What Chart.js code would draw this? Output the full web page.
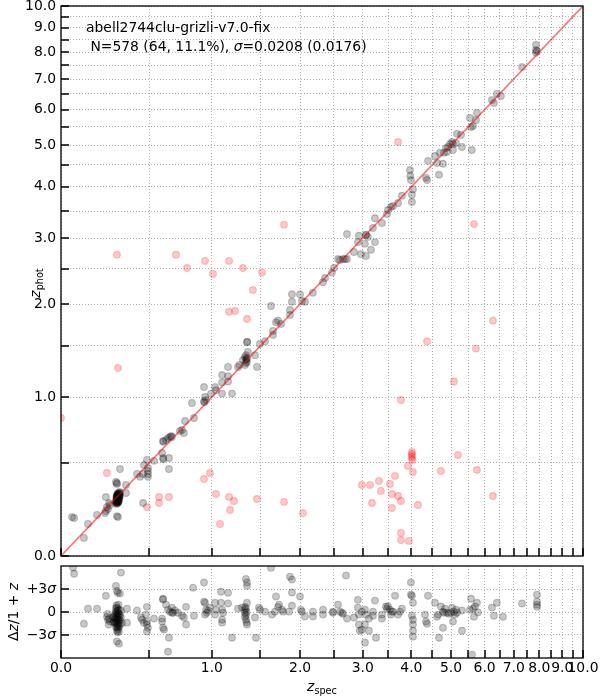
<!DOCTYPE html>
<html>
<head>
<meta charset="utf-8">
<script src="https://cdn.jsdelivr.net/npm/chart.js@4.4.0/dist/chart.umd.min.js"></script>
<style>
  body { margin: 0; background: #fff; }
  #wrap { position: relative; width: 600px; height: 700px; }
  canvas { position: absolute; left: 0; }
  #top { top: 0; }
  #bot { top: 560px; }
</style>
</head>
<body>
<div id="wrap">
  <canvas id="top" width="600" height="562"></canvas>
  <canvas id="bot" width="600" height="140"></canvas>
</div>
<script>
// axis ticks (redshift values, the axes are log(1+z))
const tickZ = [0, 0.5, 1, 1.5, 2, 2.5, 3, 3.5, 4, 4.5, 5, 5.5, 6, 6.5, 7, 7.5, 8, 8.5, 9, 9.5, 10];
const tickLabels = ['0.0', '', '1.0', '', '2.0', '', '3.0', '', '4.0', '', '5.0', '', '6.0', '', '7.0', '', '8.0', '', '9.0', '', '10.0'];

// residual panel
const residTicks = [-0.0624, 0, 0.0624];   // -3 sigma, 0, +3 sigma (sigma = 0.0208)
const residLabels = ['\u22123', '0', '+3'];
const residRange = [-0.125, 0.125];

// annotation text
const titleLine = 'abell2744clu-grizli-v7.0-fix';
const statsPre = ' N=578 (64, 11.1%), ';
const statsPost = '=0.0208 (0.0176)';

// good fits: z_spec / z_phot
const goodSpec = [
  0.052, 0.062, 0.111, 0.132, 0.180, 0.229, 0.229, 0.235, 0.241, 0.252, 0.224, 0.247,
  0.290, 0.290, 0.290, 0.293, 0.293, 0.293, 0.293, 0.296, 0.296, 0.296, 0.296, 0.296,
  0.299, 0.299, 0.299, 0.299, 0.299, 0.302, 0.302, 0.302, 0.302, 0.302, 0.305, 0.305,
  0.305, 0.305, 0.305, 0.308, 0.308, 0.308, 0.287, 0.287, 0.290, 0.296, 0.299, 0.302,
  0.293, 0.299, 0.296, 0.293, 0.311, 0.311, 0.290, 0.305, 0.308,
  0.311, 0.287, 0.293, 0.293, 0.348, 0.348, 0.293, 0.299, 0.418, 0.438, 0.458, 0.458,
  0.464, 0.484, 0.491, 0.491, 0.491, 0.491, 0.533, 0.591, 0.598, 0.600, 0.642, 0.642,
  0.598, 0.600, 0.620, 0.635, 0.650, 0.658, 0.665, 0.727, 0.743, 0.759, 0.768, 0.825, 0.842,
  0.929, 0.938, 0.929, 0.932, 0.947, 0.992, 1.029, 1.038, 1.096, 1.096, 1.096, 1.154,
  1.154, 1.194, 1.154, 1.255, 1.270, 1.307, 1.328, 1.339, 1.339, 1.350, 1.328, 1.339,
  1.350, 1.345, 1.350, 1.352, 1.360, 1.438, 1.460, 1.495, 1.553, 1.624, 1.648, 1.648,
  1.685, 1.710, 1.747, 1.863, 1.863, 1.889, 1.889, 1.998, 2.025, 2.067, 2.181, 2.332,
  2.363, 2.471, 2.504, 2.570, 2.603, 2.652, 2.686, 2.720, 2.720, 2.841, 2.930, 2.912,
  2.966, 3.058, 3.060, 3.040, 3.058, 3.096, 3.153, 3.230, 3.191, 3.230, 3.368, 3.470,
  3.491, 3.553, 3.596, 3.704, 3.789, 3.968, 3.991, 3.975, 4.037, 4.013, 4.013, 4.348,
  4.373, 4.398, 4.573, 4.626, 4.677, 4.781, 4.808, 4.702, 4.888, 4.915, 5.026, 5.053,
  5.053, 4.861, 4.970, 5.138, 5.166, 5.281, 5.309, 5.576, 5.636, 5.728, 5.759, 5.545,
  5.600, 6.240, 6.306, 6.406, 6.544, 7.313, 7.864, 7.864, 7.864, 7.905
];
const goodPhot = [
  0.185, 0.180, 0.082, 0.150, 0.196, 0.293, 0.217, 0.238, 0.227, 0.249, 0.206, 0.260,
  0.266, 0.276, 0.288, 0.271, 0.282, 0.293, 0.299, 0.266, 0.276, 0.285, 0.291, 0.302,
  0.270, 0.280, 0.288, 0.296, 0.305, 0.275, 0.284, 0.293, 0.300, 0.310, 0.282, 0.291,
  0.298, 0.305, 0.316, 0.290, 0.300, 0.310, 0.260, 0.271, 0.255, 0.258, 0.262, 0.266,
  0.262, 0.313, 0.310, 0.306, 0.300, 0.316, 0.296, 0.270, 0.322,
  0.461, 0.381, 0.369, 0.375, 0.363, 0.316, 0.190, 0.185, 0.430, 0.412, 0.430, 0.260,
  0.487, 0.520, 0.468, 0.449, 0.430, 0.412, 0.514, 0.567, 0.533, 0.525, 0.461, 0.533,
  0.651, 0.645, 0.658, 0.673, 0.680, 0.687, 0.680, 0.725, 0.733, 0.710, 0.801, 0.949, 0.825,
  1.089, 1.000, 0.961, 0.955, 0.974, 1.030, 1.089, 1.060, 1.201, 1.130, 1.030, 1.190,
  1.140, 1.030, 1.280, 1.280, 1.300, 1.350, 1.380, 1.350, 1.320, 1.370, 1.300, 1.400,
  1.330, 1.360, 1.540, 1.545, 1.434, 1.400, 1.280, 1.520, 1.550, 1.974, 1.622, 1.668,
  1.770, 1.790, 1.750, 1.923, 1.861, 2.030, 2.130, 2.130, 2.040, 2.030, 2.150, 2.300,
  2.360, 2.440, 2.510, 2.650, 2.635, 2.650, 2.650, 2.650, 3.070, 2.764, 3.040, 2.930,
  2.730, 3.050, 3.060, 2.900, 2.700, 3.020, 2.800, 2.930, 3.180, 3.360, 3.270, 3.440,
  3.520, 3.580, 3.600, 3.660, 3.810, 4.380, 4.150, 4.250, 3.950, 3.830, 3.680, 4.200,
  4.150, 4.600, 4.720, 4.550, 4.270, 4.530, 4.800, 4.800, 4.820, 4.950, 5.080, 5.030,
  4.870, 4.920, 5.030, 5.050, 5.300, 5.270, 4.950, 5.490, 5.520, 5.690, 5.900, 5.750,
  4.870, 6.300, 6.210, 6.500, 6.430, 7.430, 8.280, 8.080, 7.970, 8.040
];

// outliers: z_spec / z_phot
const outSpec = [
  0.000, 0.293, 0.299, 0.696, 0.784, 0.938, 1.010, 1.164, 1.307, 1.518, 1.415, 1.164,
  1.224, 1.350, 1.786, 0.235, 0.484, 0.569, 0.569, 0.642, 0.929, 0.983, 1.038, 1.076,
  1.164, 1.174, 1.214, 1.460, 1.786, 2.039, 2.984, 3.134, 3.309, 3.348, 3.172, 3.532,
  3.639, 3.574, 3.704, 3.767, 3.574, 3.922, 4.037, 4.013, 4.013, 4.013, 4.013, 4.020,
  4.154, 3.767, 3.767, 3.945, 3.767, 4.728, 5.194, 5.759, 6.273, 5.081, 4.373, 5.728,
  6.273, 5.667, 3.704
];
const outPhot = [
  0.825, 2.720, 1.270, 2.720, 2.510, 2.620, 2.420, 2.620, 2.510, 2.440, 2.190, 1.900,
  1.910, 1.810, 3.240, 0.436, 0.238, 0.293, 0.260, 0.293, 0.399, 0.436, 0.310, 0.150,
  0.293, 0.222, 0.271, 0.282, 0.266, 0.206, 0.363, 0.363, 0.387, 0.328, 0.260, 0.369,
  0.418, 0.310, 0.299, 0.271, 0.233, 0.481, 0.442, 0.574, 0.560, 0.547, 0.534, 0.520,
  0.249, 0.106, 0.072, 0.068, 0.974, 0.449, 0.553, 0.455, 0.299, 1.140, 1.550, 1.470,
  1.790, 3.250, 5.080
];

// residual panel: z_spec / dz/(1+z)
const resSpec = [
  0.057, 0.062, 0.111, 0.132, 0.180, 0.229, 0.235, 0.241, 0.247, 0.252, 0.245, 0.238,
  0.287, 0.287, 0.287, 0.287, 0.287, 0.287, 0.293, 0.293, 0.293, 0.293, 0.293, 0.293,
  0.293, 0.293, 0.299, 0.299, 0.299, 0.299, 0.299, 0.299, 0.299, 0.305, 0.305, 0.305,
  0.305, 0.305, 0.305, 0.281, 0.281, 0.281, 0.276, 0.276, 0.270, 0.270, 0.311, 0.311,
  0.311, 0.317, 0.317, 0.323, 0.290, 0.296, 0.302,
  0.287, 0.293, 0.299, 0.311, 0.317, 0.293, 0.305, 0.305,
  0.354, 0.354, 0.418, 0.444, 0.451, 0.464, 0.477, 0.484, 0.484, 0.491, 0.484, 0.484,
  0.533, 0.591, 0.591, 0.598, 0.598, 0.598, 0.605, 0.620, 0.635, 0.650, 0.665, 0.673,
  0.688, 0.665, 0.642, 0.635, 0.711, 0.743, 0.759, 0.776, 0.776, 0.834, 0.842, 0.929,
  0.929, 0.938, 0.947, 0.955, 0.938, 0.964, 0.983, 1.029, 1.038, 1.029, 1.086, 1.086,
  1.096, 1.105, 1.096, 1.096, 1.154, 1.154, 1.194, 1.255, 1.296,
  1.328, 1.328, 1.328, 1.339, 1.328, 1.339, 1.350, 1.350, 1.350, 1.350, 1.339, 1.345,
  1.345, 1.339,
  1.438, 1.449, 1.483, 1.495, 1.553, 1.624, 1.636, 1.673, 1.685, 1.710, 1.722, 1.760,
  1.773, 1.850, 1.863, 1.889, 1.889, 1.889, 1.998, 2.011, 2.025, 2.067, 2.181, 2.181,
  2.332, 2.332, 2.488, 2.488, 2.570, 2.603, 2.636, 2.652, 2.703, 2.720, 2.841, 2.912,
  2.912, 2.930, 2.948, 2.984, 2.930, 2.984, 3.040, 3.058, 3.040, 3.040, 3.115, 3.115,
  3.191, 3.191, 3.230, 3.250, 3.368, 3.368, 3.449, 3.470, 3.491, 3.532, 3.574, 3.553,
  3.596, 3.639, 3.704, 3.745, 3.789, 3.991, 3.991, 4.013, 4.037, 4.013, 4.037, 4.037,
  4.037, 4.037, 4.323, 4.348, 4.373, 4.398, 4.573, 4.626, 4.652, 4.677, 4.728, 4.781,
  4.808, 4.834, 4.888, 4.942, 4.998, 5.026, 5.081, 5.110, 5.138, 5.166, 4.781, 5.053,
  5.309, 5.309, 5.576, 5.545, 5.636, 5.697, 5.759, 5.790, 5.667, 5.606, 6.240, 6.306,
  6.406, 6.616, 7.313, 7.905, 7.905, 7.905, 7.905
];
const resDz = [
  0.121, 0.104, -0.032, 0.009, 0.009, 0.044, -0.013, -0.021, -0.017, -0.026, -0.034, -0.005,
  0.010, 0.000, -0.010, -0.020, -0.030, -0.040, 0.012, 0.003, -0.006, -0.015, -0.024, -0.033,
  -0.042, -0.050, 0.008, -0.002, -0.011, -0.020, -0.029, -0.038, -0.046, 0.005, -0.005, -0.014,
  -0.023, -0.032, -0.041, -0.005, -0.018, -0.030, -0.012, -0.025, -0.015, -0.028, -0.008, -0.022,
  -0.035, 0.004, -0.015, -0.030, 0.018, -0.055, 0.020,
  0.071, 0.057, 0.052, 0.050, 0.107, -0.080, -0.086, -0.053,
  0.009, -0.029, 0.004, -0.015, -0.021, -0.029, -0.007, -0.026, -0.034, -0.043, -0.053, 0.014,
  -0.018, -0.018, -0.026, 0.036, 0.034, -0.043, -0.048, 0.020, 0.006, 0.001, -0.002, -0.002,
  0.004, 0.012, -0.070, -0.108, -0.002, -0.010, -0.015, -0.034, 0.014, 0.066, -0.010, 0.080,
  0.028, 0.025, 0.006, -0.002, -0.007, 0.004, 0.012, 0.025, 0.006, -0.007, 0.055, 0.025,
  0.006, -0.002, -0.021, -0.029, 0.052, 0.023, -0.070, 0.009, 0.012,
  0.006, -0.002, -0.013, -0.021, 0.014, 0.090, 0.080, 0.071, 0.025, -0.034, -0.008, -0.028,
  0.000, 0.010,
  -0.015, -0.070, 0.012, 0.006, 0.001, 0.120, -0.007, 0.001, 0.042, 0.014, 0.020, 0.006,
  0.001, 0.001, 0.096, 0.088, 0.053, 0.017, 0.042, 0.006, 0.001, -0.012, 0.001, -0.012,
  0.006, -0.007, 0.001, -0.002, 0.020, 0.001, -0.002, -0.005, 0.099, -0.018, -0.015, 0.033,
  0.012, -0.034, -0.051, -0.048, -0.007, 0.001, 0.006, -0.007, -0.034, -0.083, -0.018, -0.051,
  0.001, -0.010, 0.031, -0.070, -0.007, -0.018, 0.015, 0.009, 0.015, 0.006, 0.001, -0.007,
  0.001, 0.044, -0.007, 0.001, 0.009, 0.080, 0.047, 0.044, 0.025, -0.010, -0.021, -0.034,
  -0.051, -0.067, -0.007, -0.026, -0.032, 0.044, 0.025, -0.013, -0.007, -0.070, 0.015, 0.001,
  -0.002, 0.009, -0.002, -0.005, -0.002, 0.012, 0.001, -0.007, 0.006, -0.002, -0.043, -0.026,
  -0.051, 0.004, 0.036, 0.006, 0.009, 0.015, 0.025, -0.001, -0.013, -0.116, 0.012, -0.010,
  0.025, -0.013, 0.023, 0.047, 0.028, 0.020, 0.014
];

const FONT = 'DejaVu Sans';
const FS = 13.9;
const SUB = 9.7;
const grayPt = 'rgba(0, 0, 0, 0.22)';
const redPt = 'rgba(255, 0, 0, 0.22)';
const gridColor = '#b0b0b0';
const gridDash = [1, 2];

Chart.defaults.font.family = FONT;
Chart.defaults.font.size = FS;
Chart.defaults.color = '#000';

const lz = z => Math.log10(1 + z);
const zMax = lz(tickZ[tickZ.length - 1]);

function logTicks(scale) {
  scale.ticks = tickZ.map(z => ({ value: lz(z) }));
}

function points(xs, ys, logY) {
  return xs.map((x, i) => ({ x: lz(x), y: logY ? lz(ys[i]) : ys[i] }));
}

// draws a run of text pieces [text, italic, size, dy] starting at x
function drawRun(ctx, pieces, x, y) {
  pieces.forEach(p => {
    ctx.font = (p[1] ? 'italic ' : '') + (p[2] || FS) + 'px ' + FONT;
    ctx.fillText(p[0], x, y + (p[3] || 0));
    x += ctx.measureText(p[0]).width;
  });
  return x;
}

function runWidth(ctx, pieces) {
  let w = 0;
  pieces.forEach(p => {
    ctx.font = (p[1] ? 'italic ' : '') + (p[2] || FS) + 'px ' + FONT;
    w += ctx.measureText(p[0]).width;
  });
  return w;
}

function drawRotated(ctx, pieces, cx, baseX) {
  ctx.save();
  ctx.translate(baseX, cx);
  ctx.rotate(-Math.PI / 2);
  ctx.textBaseline = 'alphabetic';
  ctx.textAlign = 'left';
  drawRun(ctx, pieces, -runWidth(ctx, pieces) / 2, 0);
  ctx.restore();
}

// closed frame plus inward tick marks on the left and bottom
const frameTicks = {
  id: 'frameTicks',
  afterDraw(chart) {
    const { ctx, chartArea: a, scales } = chart;
    ctx.save();
    ctx.strokeStyle = '#000';
    ctx.lineWidth = 1.5;
    ctx.beginPath();
    scales.x.ticks.forEach(t => {
      const px = Math.round(scales.x.getPixelForValue(t.value));
      ctx.moveTo(px, a.bottom);
      ctx.lineTo(px, a.bottom - 8);
    });
    scales.y.ticks.forEach(t => {
      const py = Math.round(scales.y.getPixelForValue(t.value));
      ctx.moveTo(a.left, py);
      ctx.lineTo(a.left + 8, py);
    });
    ctx.stroke();
    ctx.lineWidth = 1.3;
    ctx.strokeRect(a.left, a.top, a.right - a.left, a.bottom - a.top);
    ctx.restore();
  }
};

const topText = {
  id: 'topText',
  afterDraw(chart) {
    const ctx = chart.ctx;
    ctx.save();
    ctx.fillStyle = '#000';
    ctx.textBaseline = 'alphabetic';
    ctx.textAlign = 'left';
    drawRun(ctx, [[titleLine, false]], 86, 32);
    drawRun(ctx, [[statsPre, false], ['\u03c3', true], [statsPost, false]], 86, 51);
    drawRotated(ctx, [['z', true], ['phot', false, SUB, 3]], 283, 40);
    ctx.restore();
  }
};

const botText = {
  id: 'botText',
  afterDraw(chart) {
    const ctx = chart.ctx;
    const y = chart.scales.y;
    ctx.save();
    ctx.fillStyle = '#000';
    ctx.textBaseline = 'middle';
    ctx.textAlign = 'left';
    residTicks.forEach((v, i) => {
      const py = y.getPixelForValue(v);
      const pieces = residLabels[i] === '0' ? [['0', false]] : [[residLabels[i], false], ['\u03c3', true]];
      drawRun(ctx, pieces, chart.chartArea.left - 5 - runWidth(ctx, pieces), py);
    });
    ctx.textBaseline = 'alphabetic';
    drawRotated(ctx, [['\u0394', false], ['z', true], ['/1 + ', false], ['z', true]], 52, 18);
    const zx = chart.chartArea.left + (chart.chartArea.right - chart.chartArea.left) / 2;
    const pieces = [['z', true], ['spec', false, SUB, 3]];
    drawRun(ctx, pieces, zx - runWidth(ctx, pieces) / 2, 131);
    ctx.restore();
  }
};

function baseScales(xHeight, xTicks, yOpts) {
  return {
    x: {
      type: 'linear', min: 0, max: zMax,
      afterBuildTicks: logTicks,
      afterFit: s => { s.height = xHeight; s.paddingLeft = 0; s.paddingRight = 0; },
      ticks: xTicks,
      grid: { color: gridColor, drawTicks: false },
      border: { display: false, dash: gridDash }
    },
    y: Object.assign({
      type: 'linear',
      afterFit: s => { s.width = 61; s.paddingTop = 0; s.paddingBottom = 0; },
      grid: { color: gridColor, drawTicks: false },
      border: { display: false, dash: gridDash }
    }, yOpts)
  };
}

const commonOpts = {
  responsive: false,
  animation: false,
  events: [],
  plugins: { legend: { display: false }, tooltip: { enabled: false } }
};

const pointStyle = color => ({
  backgroundColor: color, borderColor: color, borderWidth: 1.1,
  pointRadius: 3.4, pointHoverRadius: 3.4
});

new Chart(document.getElementById('top'), {
  type: 'scatter',
  data: {
    datasets: [
      {
        type: 'line', data: [{ x: 0, y: 0 }, { x: zMax, y: zMax }],
        borderColor: 'rgba(255, 0, 0, 0.55)', borderWidth: 1.6, pointRadius: 0
      },
      Object.assign({ data: points(goodSpec, goodPhot, true) }, pointStyle(grayPt)),
      Object.assign({ data: points(outSpec, outPhot, true) }, pointStyle(redPt))
    ]
  },
  options: Object.assign({}, commonOpts, {
    layout: { padding: { top: 6, right: 17, left: 0, bottom: 0 } },
    scales: baseScales(6, { display: false, autoSkip: false }, {
      min: 0, max: zMax,
      afterBuildTicks: logTicks,
      ticks: { autoSkip: false, padding: 5, callback: (v, i) => tickLabels[i] }
    })
  }),
  plugins: [frameTicks, topText]
});

new Chart(document.getElementById('bot'), {
  type: 'scatter',
  data: {
    datasets: [
      Object.assign({ data: points(resSpec, resDz, false) }, pointStyle(grayPt))
    ]
  },
  options: Object.assign({}, commonOpts, {
    layout: { padding: { top: 6, right: 17, left: 0, bottom: 0 } },
    scales: baseScales(42, {
      autoSkip: false, maxRotation: 0, padding: 2,
      callback: (v, i) => tickLabels[i]
    }, {
      min: residRange[0], max: residRange[1],
      afterBuildTicks: s => { s.ticks = residTicks.map(v => ({ value: v })); },
      ticks: { display: false }
    })
  }),
  plugins: [frameTicks, botText]
});
</script>
</body>
</html>
